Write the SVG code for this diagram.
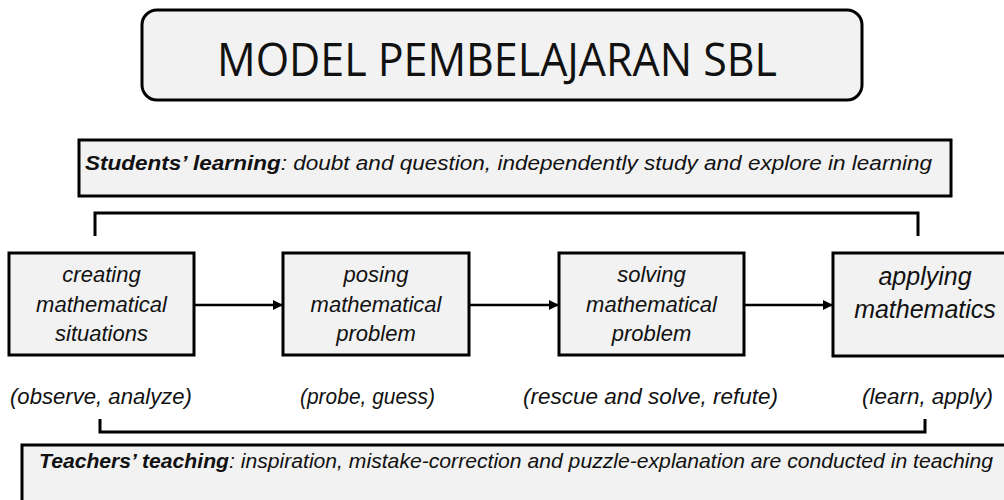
<svg xmlns="http://www.w3.org/2000/svg" width="1004" height="500" viewBox="0 0 1004 500">
<defs>
<style>
.box{fill:#f2f2f2;stroke:#000;stroke-width:3}
.t{font-family:"Liberation Sans",Arial,sans-serif;font-style:italic;fill:#111}
.bt{font-size:22px;text-anchor:middle}
.lab{font-family:"Liberation Sans",Arial,sans-serif;font-style:italic;font-size:22px;fill:#111}
.conn{fill:none;stroke:#000;stroke-width:2.5}
.br{fill:none;stroke:#000;stroke-width:3}
</style>
<marker id="ah" viewBox="0 0 10 10" refX="9" refY="5" markerWidth="4" markerHeight="4" orient="auto" markerUnits="strokeWidth">
<path d="M0,0 L10,5 L0,10 z" fill="#000"/>
</marker>
</defs>
<rect width="1004" height="500" fill="#fff"/>

<g id="title">
<rect x="142" y="10" width="720" height="90" rx="15" class="box" stroke-width="3.5"/>
<text x="497" y="76" text-anchor="middle" font-family="'Open Sans','Liberation Sans',sans-serif" font-size="46" fill="#111" textLength="560" lengthAdjust="spacingAndGlyphs">MODEL PEMBELAJARAN SBL</text>
</g>

<g id="students">
<rect x="79" y="140" width="872" height="56" class="box"/>
<text x="85" y="170" class="t" font-size="20" textLength="847" lengthAdjust="spacingAndGlyphs"><tspan font-weight="bold">Students’ learning</tspan>: doubt and question, independently study and explore in learning</text>
</g>

<g id="connectors">
<path class="br" d="M95,236 V213 H918 V236"/>
<path class="br" d="M100,419 V432 H925 V419"/>
<line class="conn" x1="195" y1="305" x2="282" y2="305" marker-end="url(#ah)"/>
<line class="conn" x1="470" y1="305" x2="558" y2="305" marker-end="url(#ah)"/>
<line class="conn" x1="745" y1="305" x2="832" y2="305" marker-end="url(#ah)"/>
</g>

<g id="node1">
<rect x="9" y="253" width="185" height="102" class="box"/>
<text class="t bt" x="101.5" y="282">creating</text>
<text class="t bt" x="101.5" y="312">mathematical</text>
<text class="t bt" x="101.5" y="341">situations</text>
</g>

<g id="node2">
<rect x="283" y="253" width="186" height="102" class="box"/>
<text class="t bt" x="376" y="282">posing</text>
<text class="t bt" x="376" y="312">mathematical</text>
<text class="t bt" x="376" y="341">problem</text>
</g>

<g id="node3">
<rect x="559" y="253" width="185" height="102" class="box"/>
<text class="t bt" x="651.5" y="282">solving</text>
<text class="t bt" x="651.5" y="312">mathematical</text>
<text class="t bt" x="651.5" y="341">problem</text>
</g>

<g id="node4">
<rect x="833" y="253" width="185" height="103" class="box"/>
<text class="t" x="925" y="285" font-size="25" text-anchor="middle">applying</text>
<text class="t" x="925" y="318" font-size="25" text-anchor="middle">mathematics</text>
</g>

<g id="labels">
<text x="10" y="404" class="lab" textLength="182" lengthAdjust="spacingAndGlyphs">(observe, analyze)</text>
<text x="300" y="404" class="lab" textLength="135" lengthAdjust="spacingAndGlyphs">(probe, guess)</text>
<text x="523" y="404" class="lab" textLength="255" lengthAdjust="spacingAndGlyphs">(rescue and solve, refute)</text>
<text x="862" y="404" class="lab" textLength="131" lengthAdjust="spacingAndGlyphs">(learn, apply)</text>
</g>

<g id="teachers">
<rect x="22" y="445" width="1000" height="70" class="box"/>
<text x="39" y="468" class="t" font-size="21" textLength="954" lengthAdjust="spacingAndGlyphs"><tspan font-weight="bold">Teachers’ teaching</tspan>: inspiration, mistake-correction and puzzle-explanation are conducted in teaching</text>
</g>
</svg>
